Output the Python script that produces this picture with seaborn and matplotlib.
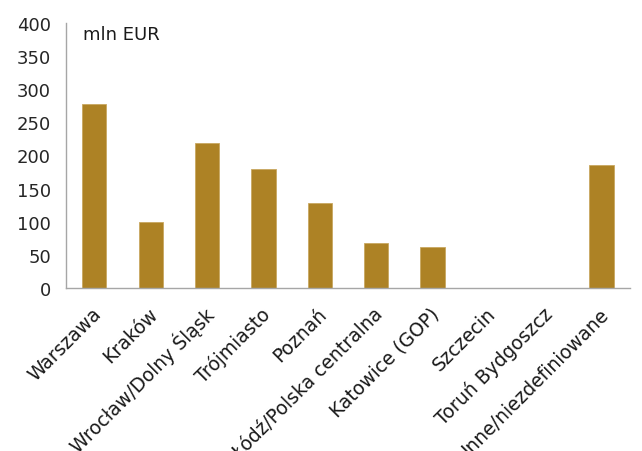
import numpy as np
import pandas as pd
import matplotlib
matplotlib.use("Agg")
import matplotlib.pyplot as plt
import seaborn as sns

regions = ["Warszawa", "Kraków", "Wrocław/Dolny Śląsk", "Trójmiasto", "Poznań",
           "Łódź/Polska centralna", "Katowice (GOP)", "Szczecin", "Toruń Bydgoszcz",
           "Inne/niezdefiniowane"]
values = [278, 100, 218, 179, 128, 68, 62, 0, 0, 185]
y_ticks = [0, 50, 100, 150, 200, 250, 300, 350, 400]

df = pd.DataFrame({"region": regions, "value": values})

sns.set_style("white")
plt.rcParams["font.family"] = ["DejaVu Sans"]

fig = plt.figure(figsize=(6.42, 4.52), dpi=100)
ax = fig.add_axes([0.103, 0.36, 0.878, 0.588])

sns.barplot(data=df, x="region", y="value", color="#AD8225", saturation=1,
            width=0.43, edgecolor="#C9A860", linewidth=0.6, ax=ax)

ax.set_ylim(0, 400)
ax.set_xlim(-0.5, len(regions) - 0.5)
ax.set_yticks(y_ticks)
ax.set_yticklabels([str(t) for t in y_ticks], fontsize=13)
ax.set_xlabel("")
ax.set_ylabel("")

# ticks on x sit between categories
ax.set_xticks(np.arange(len(regions) + 1) - 0.5)
ax.set_xticklabels([""] * (len(regions) + 1))
ax.tick_params(axis="x", length=5, color="#A6A6A6", direction="out")
ax.tick_params(axis="y", length=5, color="#A6A6A6", direction="out", pad=6)

for i, name in enumerate(regions):
    ax.annotate(name, xy=(i, 0), xycoords=("data", "axes fraction"),
                xytext=(3, -16), textcoords="offset points",
                rotation=45, ha="right", va="center", rotation_mode="anchor",
                fontsize=13.5, color="#1a1a1a")

for side in ["top", "right"]:
    ax.spines[side].set_visible(False)
for side in ["left", "bottom"]:
    ax.spines[side].set_color("#A6A6A6")
    ax.spines[side].set_linewidth(1.0)

ax.text(0.03, 0.955, "mln EUR", transform=ax.transAxes, fontsize=13,
        ha="left", va="center", color="#1a1a1a")

fig.savefig("out.png", dpi=100)
